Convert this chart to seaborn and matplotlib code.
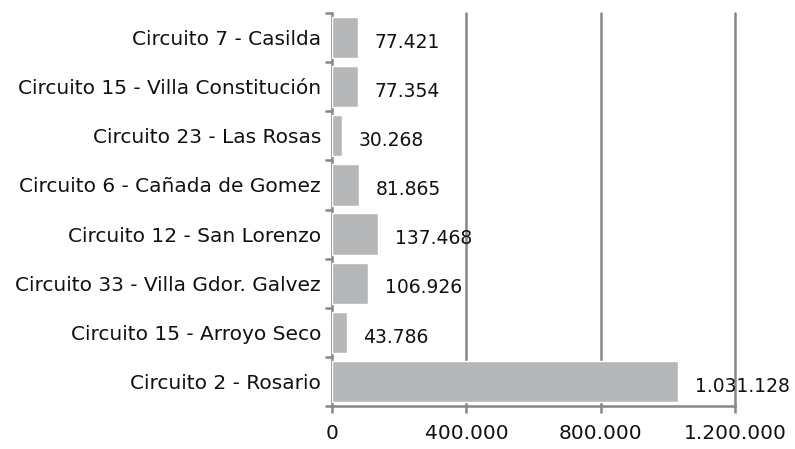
import matplotlib
matplotlib.use("Agg")
import matplotlib.pyplot as plt
import seaborn as sns
import pandas as pd
from matplotlib.ticker import FuncFormatter

categories = [
    "Circuito 7 - Casilda",
    "Circuito 15 - Villa Constitución",
    "Circuito 23 - Las Rosas",
    "Circuito 6 - Cañada de Gomez",
    "Circuito 12 - San Lorenzo",
    "Circuito 33 - Villa Gdor. Galvez",
    "Circuito 15 - Arroyo Seco",
    "Circuito 2 - Rosario",
]
values = [77421, 77354, 30268, 81865, 137468, 106926, 43786, 1031128]
xticks = [0, 400000, 800000, 1200000]

sns.set_theme(style="white")
plt.rcParams["font.family"] = ["DejaVu Sans"]
FS = 14.5
FS_VAL = 13.5

def fmt(v):
    return f"{int(v):,}".replace(",", ".")

df = pd.DataFrame({"cat": categories, "val": values})

fig = plt.figure(figsize=(7.95, 4.49), dpi=100)
ax = fig.add_axes([332/795, 1 - 406/449, (735 - 332)/795, (406 - 13)/449])

sns.barplot(data=df, y="cat", x="val", color="#B5B7B9", saturation=1,
            width=0.84, ax=ax, orient="h", zorder=3)

ax.set_xlim(0, 1200000)
ax.set_xticks(xticks)
ax.xaxis.set_major_formatter(FuncFormatter(lambda v, p: fmt(v)))
ax.set_xlabel("")
ax.set_ylabel("")

for x in xticks[1:]:
    ax.axvline(x, color="#878787", lw=1.8, zorder=1, clip_on=False)

for i, v in enumerate(values):
    ax.annotate(fmt(v), (v, i), xytext=(12, -2), textcoords="offset points",
                ha="left", va="center_baseline", fontsize=FS_VAL, color="#111111")

for s in ["top", "right"]:
    ax.spines[s].set_visible(False)
for s in ["left", "bottom"]:
    ax.spines[s].set_color("#878787")
    ax.spines[s].set_linewidth(1.8)

ax.set_yticks(range(len(categories)))
ax.set_yticklabels(categories, va="center_baseline")
ax.tick_params(axis="y", length=0, pad=8, labelsize=FS, labelcolor="#111111")
ax.set_yticks([i - 0.5 for i in range(len(categories) + 1)], minor=True)
ax.tick_params(axis="y", which="minor", length=5, width=1.8, color="#878787", left=True)
ax.tick_params(axis="x", length=5, width=1.8, color="#878787", bottom=True,
               labelsize=FS, labelcolor="#111111", pad=8)
ax.set_ylim(len(categories) - 0.5, -0.5)

fig.savefig("out.png", dpi=100)
